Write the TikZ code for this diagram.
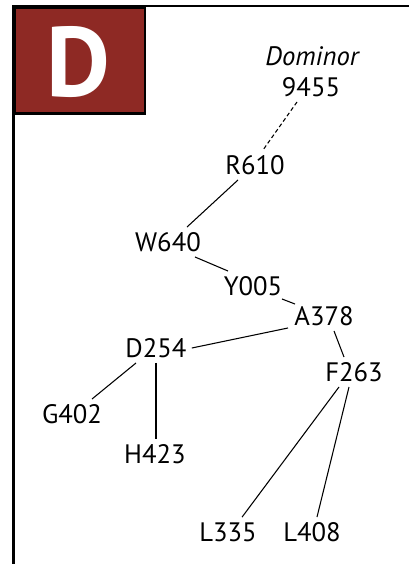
\documentclass[tikz,border=0pt]{standalone}
\usepackage{fontspec}
\setmainfont{PT Sans}
\begin{document}
\begin{tikzpicture}[x=0.75pt,y=-0.75pt,
  lbl/.style={font=\fontsize{20}{22}\selectfont, inner sep=4pt, outer sep=0pt},
  link/.style={line width=0.8pt, black},
  frameline/.style={line width=2pt, black}]
\useasboundingbox (0,0) rectangle (409,564);
\definecolor{boxred}{RGB}{142,41,36}
% frame
\draw[frameline] (13.5,6) -- (409,6);
\draw[frameline] (13.5,5) -- (13.5,564);
\node[draw=black, line width=2pt, fill=boxred, minimum width=130*0.75pt, minimum height=106*0.75pt, anchor=north west, inner sep=0pt] (dbox) at (13.5,6) {};
\node[text=white, font=\fontsize{74}{74}\bfseries\selectfont, inner sep=0pt] (dletter) at (78,62) {D};
% nodes
\node[font=\fontsize{20}{22}\itshape\selectfont, inner sep=0pt] (dominor) at (312,56) {Dominor};
\node[lbl] (n9455) at (311,87) {9455};
\node[lbl] (R610) at (255,165) {R610};
\node[lbl] (W640) at (168,242) {W640};
\node[lbl] (Y005) at (253,286) {Y005};
\node[lbl] (A378) at (324,316) {A378};
\node[lbl] (D254) at (156,348) {D254};
\node[lbl] (F263) at (354,372) {F263};
\node[lbl] (G402) at (72,414) {G402};
\node[lbl] (H423) at (155,454) {H423};
\node[lbl] (L335) at (228,532) {L335};
\node[lbl] (L408) at (312,532) {L408};
% edges
\draw[link, dashed, dash pattern=on 3pt off 2pt] ([xshift=-14*0.75pt]n9455.south) -- ([xshift=8*0.75pt]R610.north);
\draw[link] ([xshift=-17*0.75pt]R610.south) -- ([xshift=19*0.75pt]W640.north);
\draw[link] ([xshift=27*0.75pt]W640.south) -- ([xshift=-25*0.75pt]Y005.north);
\draw[link] ([xshift=29*0.75pt,yshift=2*0.75pt]Y005.south) -- ([xshift=-29*0.75pt,yshift=-3*0.75pt]A378.north);
\draw[link] ([xshift=-36*0.75pt,yshift=3*0.75pt]A378.south) -- (D254.east);
\draw[link] ([xshift=10*0.75pt]A378.south) -- ([xshift=-10*0.75pt]F263.north);
\draw[link] ([xshift=-20*0.75pt]D254.south) -- ([xshift=20*0.75pt]G402.north);
\draw[link] (D254.south) -- (D254.south |- H423.north);
\draw[link] ([xshift=-15*0.75pt]F263.south) -- ([xshift=14*0.75pt]L335.north);
\draw[link] ([xshift=-5*0.75pt]F263.south) -- ([xshift=5*0.75pt]L408.north);
\end{tikzpicture}
\end{document}
